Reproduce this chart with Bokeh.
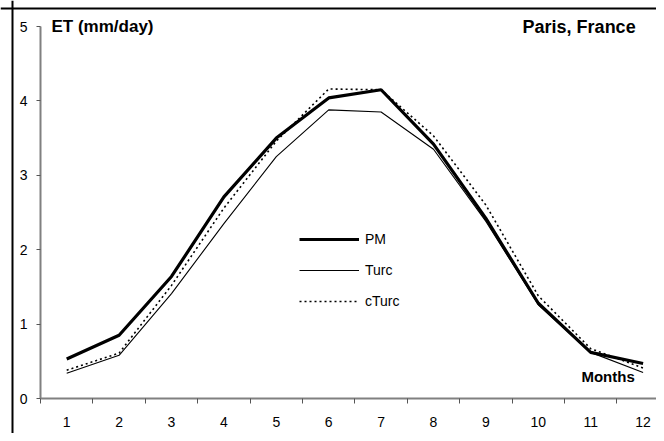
from bokeh.plotting import figure
from bokeh.models import Range1d, FixedTicker, Legend, LegendItem, Label, Span
from bokeh.embed import file_html
from bokeh.resources import INLINE

months = [1, 2, 3, 4, 5, 6, 7, 8, 9, 10, 11, 12]
month_labels = {m: str(m) for m in months}
month_bounds = [0.5, 1.5, 2.5, 3.5, 4.5, 5.5, 6.5, 7.5, 8.5, 9.5, 10.5, 11.5]
y_ticks = [0, 1, 2, 3, 4, 5]

pm = [0.53, 0.85, 1.64, 2.71, 3.50, 4.04, 4.15, 3.42, 2.42, 1.28, 0.62, 0.47]
turc = [0.34, 0.58, 1.41, 2.35, 3.25, 3.88, 3.85, 3.35, 2.38, 1.26, 0.62, 0.35]
cturc = [0.38, 0.61, 1.52, 2.56, 3.46, 4.16, 4.15, 3.53, 2.60, 1.38, 0.67, 0.41]

FONT = "Liberation Sans"

p = figure(width=656, height=433, output_backend="svg", toolbar_location=None,
           x_range=Range1d(-0.2634, 12.2557), y_range=Range1d(-0.4704, 5.3495),
           min_border_left=0, min_border_top=0, min_border_bottom=0, min_border_right=0)
p.outline_line_color = None
p.xgrid.visible = False
p.ygrid.visible = False

# outer chart frame (left and top edges visible)
p.add_layout(Span(location=-0.0344, dimension="height", line_color="black",
                  line_alpha=1, line_width=2))
p.add_layout(Span(location=5.242, dimension="width", line_color="black",
                  line_alpha=1, line_width=2))

# x axis
p.xaxis.fixed_location = 0
p.xaxis.bounds = (0.5, 12.2557)
p.xaxis.ticker = FixedTicker(ticks=months, minor_ticks=month_bounds)
p.xaxis.major_label_overrides = month_labels
p.xaxis.major_tick_out = 0
p.xaxis.major_tick_in = 0
p.xaxis.minor_tick_out = 5
p.xaxis.minor_tick_in = 0
p.xaxis.minor_tick_line_color = "#555555"
p.xaxis.axis_line_color = "#808080"
p.xaxis.axis_line_width = 2
p.xaxis.major_label_standoff = 13
p.xaxis.major_label_text_font = FONT
p.xaxis.major_label_text_font_size = "14px"
p.xaxis.major_label_text_color = "black"

# y axis
p.yaxis.fixed_location = 0.5
p.yaxis.bounds = (0, 5)
p.yaxis.ticker = FixedTicker(ticks=y_ticks)
p.yaxis.major_tick_out = 4
p.yaxis.major_tick_in = 0
p.yaxis.minor_tick_out = 0
p.yaxis.minor_tick_in = 0
p.yaxis.major_tick_line_color = "#555555"
p.yaxis.axis_line_color = "#808080"
p.yaxis.axis_line_width = 2
p.yaxis.major_label_standoff = 9
p.yaxis.major_label_text_font = FONT
p.yaxis.major_label_text_font_size = "14px"
p.yaxis.major_label_text_color = "black"

r_pm = p.line(months, pm, line_color="black", line_width=3.2)
r_turc = p.line(months, turc, line_color="black", line_width=1.1)
r_cturc = p.line(months, cturc, line_color="black", line_width=1.6, line_dash="2 3")

legend = Legend(items=[LegendItem(label="PM", renderers=[r_pm]),
                       LegendItem(label="Turc", renderers=[r_turc]),
                       LegendItem(label="cTurc", renderers=[r_cturc])],
                location=(299, 122), glyph_width=60, glyph_height=20, spacing=11,
                padding=0, margin=0, border_line_color=None, background_fill_alpha=0,
                label_text_font=FONT, label_text_font_size="14px", label_standoff=6,
                label_text_color="black")
p.add_layout(legend)

p.add_layout(Label(x=0.71, y=5, text="ET (mm/day)", text_font=FONT, text_color="black",
                   text_font_size="17px", text_font_style="bold", text_baseline="middle"))
p.add_layout(Label(x=9.70, y=5, text="Paris, France", text_font=FONT, text_color="black",
                   text_font_size="18px", text_font_style="bold", text_baseline="middle"))
p.add_layout(Label(x=11.84, y=0.30, text="Months", text_font=FONT, text_align="right",
                   text_color="black",
                   text_font_size="15px", text_font_style="bold", text_baseline="middle"))

open("out.html", "w").write(file_html(p, INLINE))
